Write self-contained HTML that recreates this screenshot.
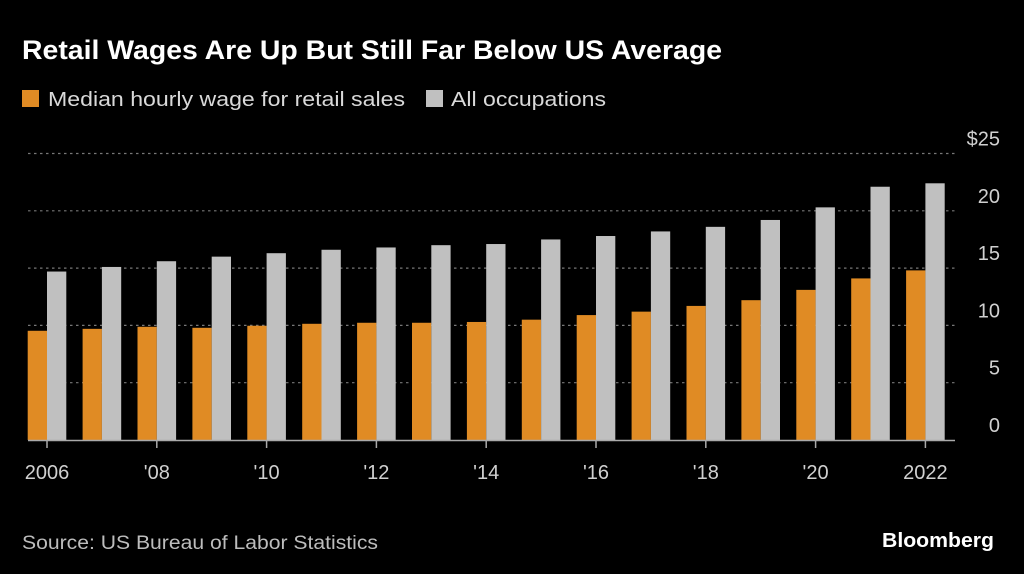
<!DOCTYPE html>
<html><head><meta charset="utf-8"><style>
html,body{margin:0;padding:0;background:#000;width:1024px;height:574px;overflow:hidden;font-family:"Liberation Sans",sans-serif;color:#fff}
</style></head><body>
<svg width="1024" height="574" xmlns="http://www.w3.org/2000/svg">
<text x="22" y="59" font-size="27" font-weight="bold" fill="#fff" textLength="700" lengthAdjust="spacingAndGlyphs">Retail Wages Are Up But Still Far Below US Average</text>
<rect x="22" y="90" width="17" height="17" fill="#e08b24"/>
<text x="48" y="106" font-size="20" fill="#d9d9d9" textLength="357" lengthAdjust="spacingAndGlyphs">Median hourly wage for retail sales</text>
<rect x="426" y="90" width="17" height="17" fill="#c0c0c0"/>
<text x="451" y="106" font-size="20" fill="#d9d9d9" textLength="155" lengthAdjust="spacingAndGlyphs">All occupations</text>
<g id="plot"></g>
<text x="22" y="549" font-size="19" fill="#bdbdbd" textLength="356" lengthAdjust="spacingAndGlyphs">Source: US Bureau of Labor Statistics</text>
<text x="994" y="547" font-size="20" font-weight="bold" fill="#fff" text-anchor="end" textLength="112" lengthAdjust="spacingAndGlyphs">Bloomberg</text>
</svg>
<script>
const years=[2006,2007,2008,2009,2010,2011,2012,2013,2014,2015,2016,2017,2018,2019,2020,2021,2022];
const retail=[9.53,9.7,9.88,9.79,9.97,10.14,10.23,10.23,10.3,10.5,10.9,11.2,11.7,12.2,13.1,14.1,14.8];
const allOcc=[14.7,15.1,15.6,16.0,16.3,16.6,16.8,17.0,17.1,17.5,17.8,18.2,18.6,19.2,20.3,22.1,22.4];
const yTicks=[0,5,10,15,20,25];
const yTickLabels=["0","5","10","15","20","$25"];
const xLabelYears=[2006,2008,2010,2012,2014,2016,2018,2020,2022];
const xLabels=["2006","'08","'10","'12","'14","'16","'18","'20","2022"];
const NS="http://www.w3.org/2000/svg";
const g=document.getElementById('plot');
const y=v=>440-v*(286.5/25);
const x=yr=>47+(yr-2006)*54.9;
const bw=19.3;
function mk(t,a){const e=document.createElementNS(NS,t);for(const k in a)e.setAttribute(k,a[k]);g.appendChild(e);return e;}
yTicks.forEach((v,i)=>{
 if(v>0){const l=mk('line',{x1:28,x2:955,y1:y(v),y2:y(v),stroke:'#777','stroke-width':1.2,'stroke-dasharray':'2.5,3.5'});
 
 }
 const t=mk('text',{x:1000,y:y(v)-8,'font-size':20,fill:'#d0d0d0','text-anchor':'end'});
 t.textContent=yTickLabels[i];
 
 
});
years.forEach((yr,i)=>{
 const r=mk('rect',{x:x(yr)-bw,y:y(retail[i]),width:bw,height:440-y(retail[i]),fill:'#e08b24'});
 
 
 const a=mk('rect',{x:x(yr),y:y(allOcc[i]),width:bw,height:440-y(allOcc[i]),fill:'#c0c0c0'});
 
 
});
const base=mk('line',{x1:28,x2:955,y1:440.5,y2:440.5,stroke:'#aaa','stroke-width':1.5});


xLabelYears.forEach((yr,i)=>{
 const tk=mk('line',{x1:x(yr),x2:x(yr),y1:441,y2:448,stroke:'#aaa','stroke-width':1.5});
 
 
 const t=mk('text',{x:x(yr),y:479,'font-size':20,fill:'#d0d0d0','text-anchor':'middle'});
 t.textContent=xLabels[i];
 
 
});
</script>
</body></html>
